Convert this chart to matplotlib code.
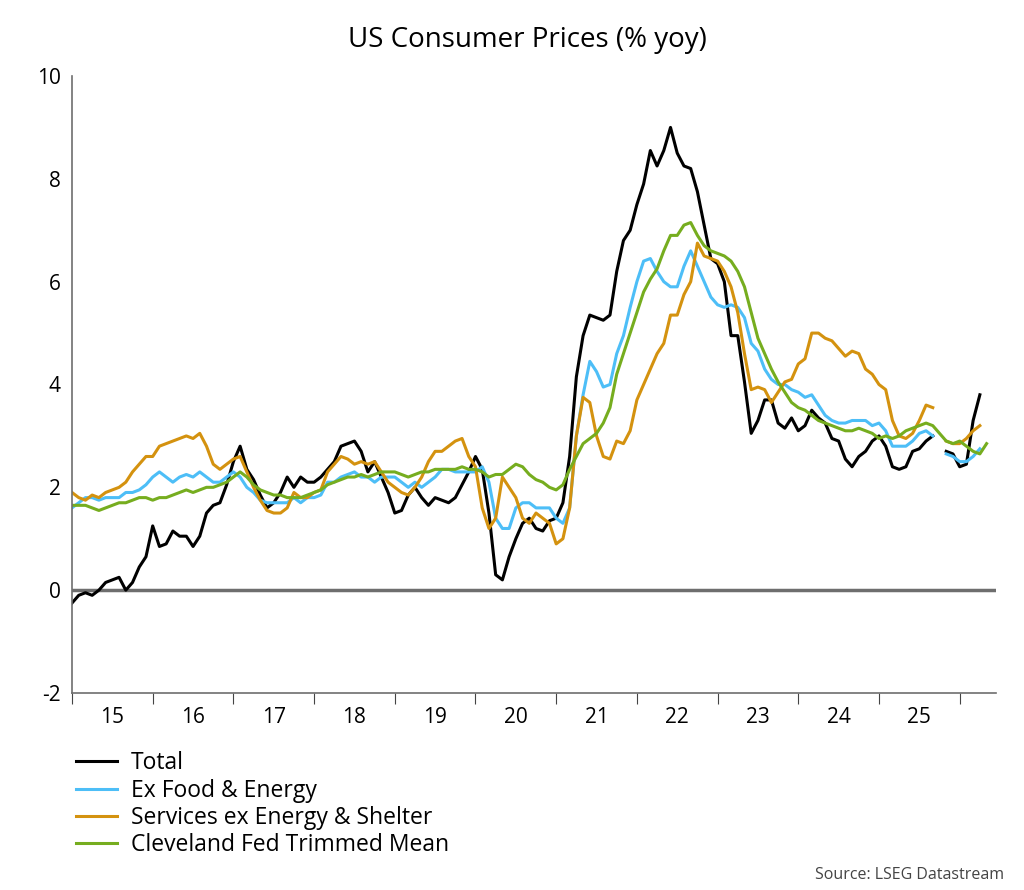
import numpy as np
import matplotlib
matplotlib.use("Agg")
import matplotlib.pyplot as plt

plt.rcParams['font.family'] = ['Open Sans', 'DejaVu Sans']
plt.rcParams['axes.unicode_minus'] = False
nan = np.nan

total = [-0.25,-0.1,-0.05,-0.1,0.0,0.15,0.2,0.25,0.0,0.15,0.45,0.65,
         1.25,0.85,0.9,1.15,1.05,1.05,0.85,1.05,1.5,1.65,1.7,2.05,
         2.5,2.8,2.35,2.15,1.85,1.6,1.7,1.9,2.2,2.0,2.2,2.1,
         2.1,2.2,2.35,2.5,2.8,2.85,2.9,2.7,2.3,2.5,2.2,1.9,
         1.5,1.55,1.85,2.0,1.8,1.65,1.8,1.75,1.7,1.8,2.05,2.3,
         2.6,2.35,1.5,0.3,0.2,0.65,1.0,1.3,1.4,1.2,1.15,1.35,
         1.4,1.7,2.6,4.15,4.95,5.35,5.3,5.25,5.35,6.2,6.8,7.0,
         7.5,7.9,8.55,8.25,8.55,9.0,8.5,8.25,8.2,7.75,7.1,6.45,
         6.35,6.0,4.95,4.95,4.05,3.05,3.3,3.7,3.7,3.25,3.15,3.35,
         3.1,3.2,3.5,3.35,3.25,2.95,2.9,2.55,2.4,2.6,2.7,2.9,
         3.0,2.8,2.4,2.35,2.4,2.7,2.75,2.9,3.0,nan,2.7,2.65,
         2.4,2.45,3.3,3.8]
core = [1.6,1.7,1.8,1.8,1.75,1.8,1.8,1.8,1.9,1.9,1.95,2.05,
        2.2,2.3,2.2,2.1,2.2,2.25,2.2,2.3,2.2,2.1,2.1,2.2,
        2.3,2.2,2.0,1.9,1.75,1.7,1.7,1.7,1.7,1.8,1.7,1.8,
        1.8,1.85,2.1,2.1,2.2,2.25,2.3,2.2,2.2,2.1,2.2,2.2,
        2.2,2.1,2.0,2.1,2.0,2.1,2.2,2.35,2.35,2.3,2.3,2.3,
        2.3,2.4,2.1,1.4,1.2,1.2,1.6,1.7,1.7,1.6,1.6,1.6,
        1.4,1.3,1.6,3.0,3.8,4.45,4.25,3.95,4.0,4.6,4.95,5.5,
        6.0,6.4,6.45,6.2,6.0,5.9,5.9,6.3,6.6,6.3,6.0,5.7,
        5.55,5.5,5.55,5.5,5.3,4.8,4.65,4.3,4.1,4.0,4.0,3.9,
        3.85,3.75,3.8,3.6,3.4,3.3,3.25,3.25,3.3,3.3,3.3,3.2,
        3.25,3.1,2.8,2.8,2.8,2.9,3.05,3.1,3.0,nan,2.65,2.6,
        2.5,2.5,2.6,2.75]
services = [1.9,1.8,1.75,1.85,1.8,1.9,1.95,2.0,2.1,2.3,2.45,2.6,
            2.6,2.8,2.85,2.9,2.95,3.0,2.95,3.05,2.8,2.45,2.35,2.45,
            2.55,2.6,2.3,2.0,1.75,1.55,1.5,1.5,1.6,1.9,1.8,1.8,
            1.9,1.95,2.3,2.45,2.6,2.55,2.45,2.5,2.45,2.5,2.3,2.1,
            2.0,1.9,1.85,2.0,2.2,2.5,2.7,2.7,2.8,2.9,2.95,2.6,
            2.4,1.6,1.2,1.4,2.2,2.0,1.8,1.4,1.3,1.5,1.4,1.3,
            0.9,1.0,1.6,3.0,3.75,3.65,3.0,2.6,2.55,2.9,2.85,3.1,
            3.7,4.0,4.3,4.6,4.8,5.35,5.35,5.75,6.0,6.75,6.5,6.45,
            6.4,6.2,5.9,5.4,4.6,3.9,3.95,3.9,3.65,3.85,4.05,4.1,
            4.4,4.5,5.0,5.0,4.9,4.85,4.7,4.55,4.65,4.6,4.3,4.2,
            4.0,3.9,3.3,3.0,2.95,3.05,3.3,3.6,3.55,nan,2.9,2.85,
            2.85,2.95,3.1,3.2]
trimmed = [1.65,1.65,1.65,1.6,1.55,1.6,1.65,1.7,1.7,1.75,1.8,1.8,
           1.75,1.8,1.8,1.85,1.9,1.95,1.9,1.95,2.0,2.0,2.05,2.1,
           2.2,2.3,2.2,2.05,1.95,1.9,1.85,1.85,1.8,1.8,1.8,1.85,
           1.9,1.95,2.05,2.1,2.15,2.2,2.2,2.25,2.2,2.25,2.3,2.3,
           2.3,2.25,2.2,2.25,2.3,2.3,2.35,2.35,2.35,2.35,2.4,2.35,
           2.35,2.3,2.2,2.25,2.25,2.35,2.45,2.4,2.25,2.15,2.1,2.0,
           1.95,2.05,2.35,2.6,2.85,2.95,3.05,3.25,3.55,4.2,4.6,5.0,
           5.4,5.8,6.05,6.25,6.6,6.9,6.9,7.1,7.15,6.9,6.7,6.6,
           6.55,6.5,6.4,6.2,5.9,5.4,4.9,4.6,4.3,4.05,3.85,3.65,
           3.55,3.5,3.4,3.3,3.25,3.2,3.15,3.1,3.1,3.15,3.1,3.05,
           2.95,3.0,2.95,3.0,3.1,3.15,3.2,3.25,3.2,3.05,2.9,2.85,
           2.9,2.8,2.7,2.65,2.85]
years = list(range(2015, 2026))
year_labels = [str(y % 100) for y in years]

def xs(n):
    return 2015 + np.arange(n) / 12

fig = plt.figure(figsize=(10.24, 8.9), dpi=100)
ax = fig.add_axes([72/1024, 1-693/890, 924/1024, 617/890])
series = [(total, 'Total', 'black'),
          (core, 'Ex Food & Energy', '#4dbef7'),
          (services, 'Services ex Energy & Shelter', '#d4920f'),
          (trimmed, 'Cleveland Fed Trimmed Mean', '#76ad1f')]
handles = []
for vals, lab, c in series:
    h, = ax.plot(xs(len(vals)), vals, color=c, lw=2.2, label=lab)
    handles.append(h)

ax.set_xlim(2015, 2026.45)
ax.set_ylim(-2, 10)
ax.axhline(0, color='#6e6e6e', lw=2.5, zorder=0)
ax.set_yticks(range(-2, 11, 2))
ax.set_xticks(range(2015, 2027))
ax.set_xticklabels([])
ax.set_xticks([y + 0.5 for y in years], minor=True)
ax.set_xticklabels(year_labels, minor=True)
ax.tick_params(axis='x', which='major', length=8, direction='out', color='#444444')
ax.tick_params(axis='x', which='minor', length=0, labelsize=15, pad=10)
ax.tick_params(axis='y', length=0, labelsize=15, pad=8)
for s in ['top', 'right']:
    ax.spines[s].set_visible(False)
for s in ['left', 'bottom']:
    ax.spines[s].set_color('#6e6e6e')
    ax.spines[s].set_linewidth(1.2)

fig.text(0.515, 1-40/890, 'US Consumer Prices (% yoy)', ha='center', va='center', fontsize=20)
fig.legend(handles=handles, loc='upper left', bbox_to_anchor=(0.065, 1-742/890),
           frameon=False, fontsize=16.5, handlelength=1.8, labelspacing=0.15,
           handletextpad=0.6, borderaxespad=0)
fig.text(1-20/1024, 1-875/890, 'Source: LSEG Datastream', ha='right', va='center',
         fontsize=11.5, color='#444444')
fig.savefig('out.png', dpi=100)
